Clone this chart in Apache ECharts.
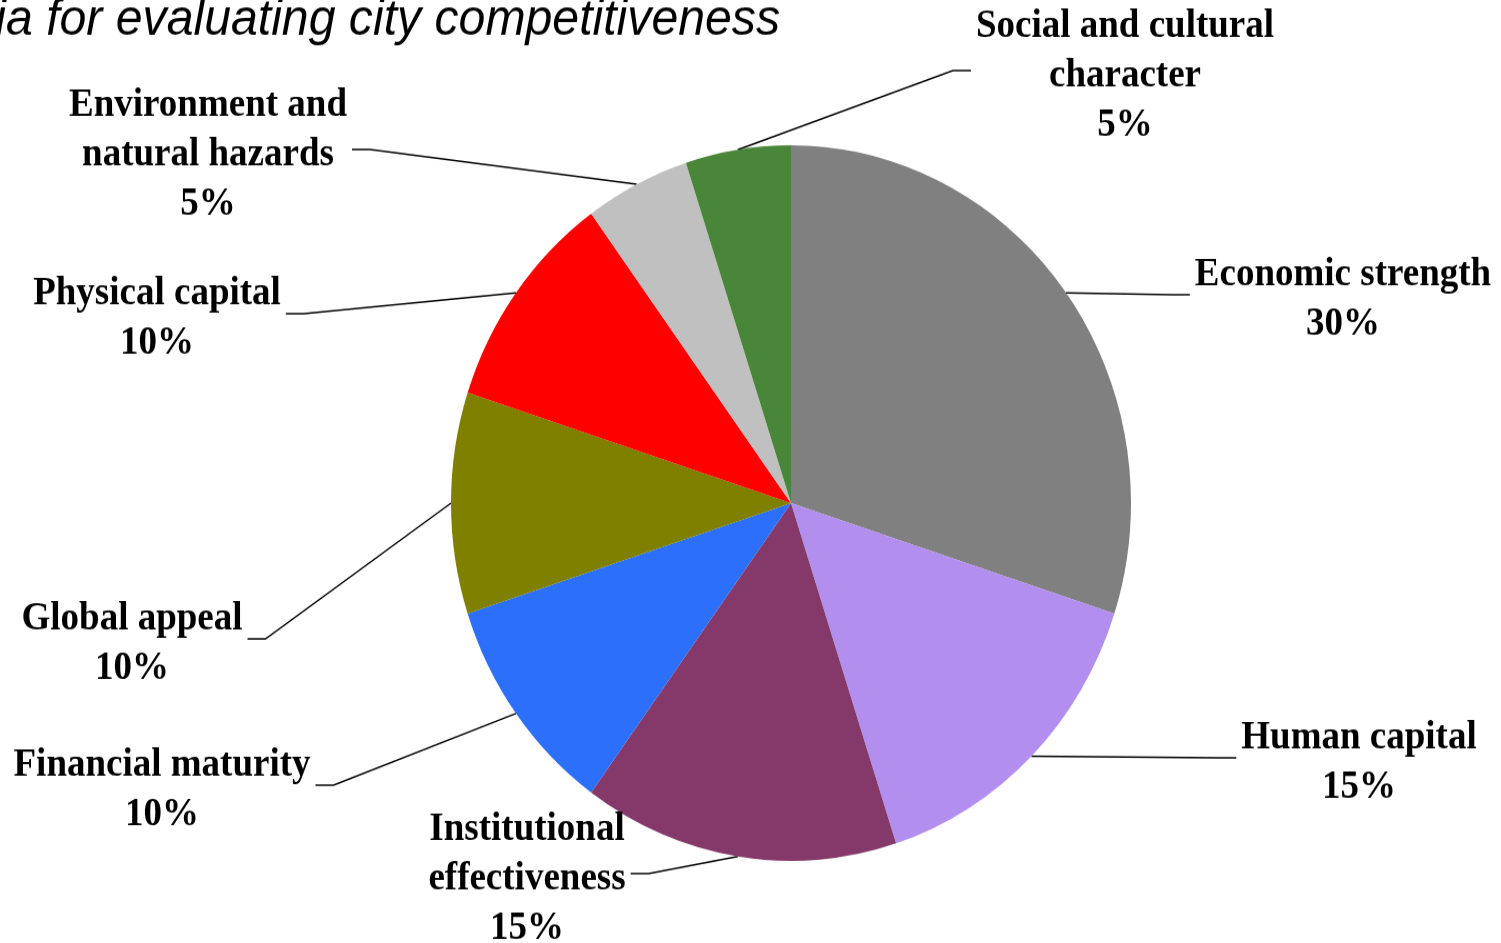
<!DOCTYPE html>
<html>
<head>
<meta charset="utf-8">
<title>City competitiveness criteria</title>
<script src="https://cdn.jsdelivr.net/npm/echarts@6/dist/echarts.min.js"></script>
<style>
  html, body { margin: 0; padding: 0; background: #ffffff; overflow: hidden; width: 1501px; height: 943px; }
  /* The chart is drawn slightly taller than wide, so the canvas is stretched vertically */
  #chart { width: 1501px; height: 940px; transform: scaleY(1.0525); transform-origin: 0 0; }
</style>
</head>
<body>
<div id="chart"></div>
<script>
// Criteria and their weights (percent of the overall score), clockwise from the top
const categories = [
  'Economic strength',
  'Human capital',
  'Institutional\neffectiveness',
  'Financial maturity',
  'Global appeal',
  'Physical capital',
  'Environment and\nnatural hazards',
  'Social and cultural\ncharacter'
];
const weights = [30, 15, 15, 10, 10, 10, 5, 5];
const sliceColors = ['#808080', '#B28FEE', '#85396A', '#2C6FFA', '#808000', '#FF0000', '#C0C0C0', '#4A863A'];

const titleText = 'Criteria for evaluating city competitiveness';

// Where each label block is centred, in chart pixels
const labelSpots = [
  [1343, 285], [1359, 725], [527, 835], [162, 751],
  [132, 612], [157, 303], [208, 147], [1125, 72]
];
const CENTER = [791, 478];

const chart = echarts.init(document.getElementById('chart'), null, { renderer: 'canvas' });

chart.setOption({
  animation: false,
  backgroundColor: '#ffffff',
  title: {
    text: titleText,
    right: 1501 - 780,
    top: -4,
    padding: 0,
    textStyle: {
      fontFamily: 'Liberation Sans, Arial, sans-serif',
      fontStyle: 'italic',
      fontWeight: 'normal',
      fontSize: 48.2,
      color: '#000000'
    }
  },
  series: [{
    type: 'pie',
    center: CENTER,
    radius: 340,
    startAngle: 90,
    clockwise: true,
    avoidLabelOverlap: false,
    emphasis: { disabled: true },
    itemStyle: { borderWidth: 0 },
    label: {
      show: true,
      position: 'outside',
      formatter: '{b}\n{c}%',
      fontFamily: 'Liberation Serif, Times New Roman, serif',
      fontWeight: 'bold',
      fontSize: 37,
      lineHeight: 47,
      color: '#000000',
      align: 'center',
      overflow: 'none'
    },
    labelLine: {
      show: true,
      length: 20,
      length2: 20,
      lineStyle: { color: '#000000', width: 1.5 }
    },
    labelLayout: function (params) {
      const spot = labelSpots[params.dataIndex];
      const w = params.labelRect.width;
      const onRight = spot[0] > CENTER[0];
      const start = params.labelLinePoints ? params.labelLinePoints[0] : null;
      const edge = onRight ? spot[0] - w / 2 - 5 : spot[0] + w / 2 + 5;
      const elbow = onRight ? edge - 18 : edge + 18;
      const ly = spot[1] - 5;
      const out = {
        x: spot[0],
        y: spot[1],
        align: 'center',
        verticalAlign: 'middle'
      };
      if (start) {
        out.labelLinePoints = [start, [elbow, ly], [edge, ly]];
      }
      return out;
    },
    data: categories.map(function (name, i) {
      return { name: name, value: weights[i], itemStyle: { color: sliceColors[i] } };
    })
  }]
});
</script>
</body>
</html>
